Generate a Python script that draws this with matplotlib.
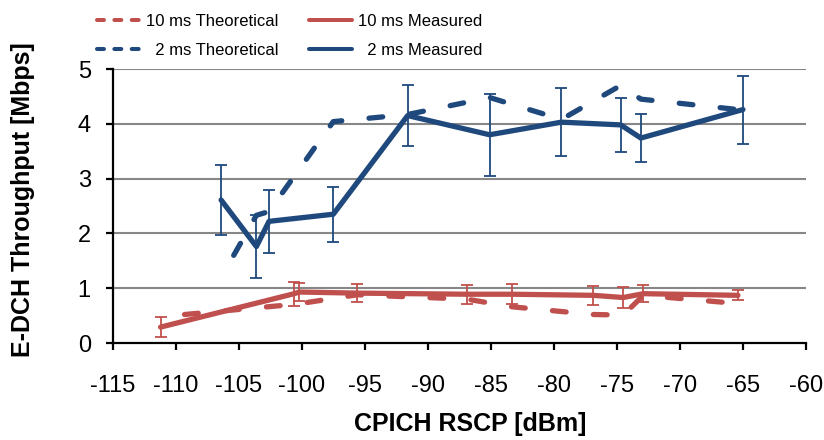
import matplotlib
matplotlib.use("Agg")
import matplotlib.pyplot as plt
from matplotlib.lines import Line2D
from matplotlib import font_manager

# ---- data -------------------------------------------------------------
# 10 ms TTI
rscp_10_theo = [-109.3, -100.4, -95.6, -86.9, -83.3, -76.9, -74.5, -72.9, -65.4]
tput_10_theo = [0.52, 0.71, 0.88, 0.80, 0.66, 0.52, 0.51, 0.87, 0.72]

rscp_10_meas = [-111.2, -100.6, -100.2, -95.6, -86.9, -83.3, -76.9, -74.5, -72.9, -65.4]
tput_10_meas = [0.29, 0.90, 0.93, 0.91, 0.89, 0.89, 0.87, 0.83, 0.90, 0.87]
err_10_meas = [0.18, 0.22, 0.16, 0.17, 0.17, 0.18, 0.17, 0.20, 0.16, 0.09]

# 2 ms TTI
rscp_2_theo = [-105.4, -103.6, -102.6, -97.5, -91.6, -85.1, -79.4, -74.7, -73.1, -65.0]
tput_2_theo = [1.60, 2.33, 2.40, 4.04, 4.17, 4.48, 4.08, 4.70, 4.45, 4.25]

rscp_2_meas = [-106.4, -103.6, -102.6, -97.5, -91.6, -85.1, -79.4, -74.7, -73.1, -65.0]
tput_2_meas = [2.61, 1.76, 2.22, 2.35, 4.15, 3.80, 4.03, 3.98, 3.74, 4.26]
err_2_meas = [0.64, 0.57, 0.58, 0.50, 0.56, 0.75, 0.62, 0.49, 0.44, 0.62]

x_ticks = list(range(-115, -59, 5))
y_ticks = [0, 1, 2, 3, 4, 5]

labels = ["10 ms Theoretical", "  2 ms Theoretical", "10 ms Measured", "  2 ms Measured"]

# ---- style ------------------------------------------------------------
RED = "#C0504D"
BLUE = "#1F497D"
GRID = "#878787"

plt.rcParams["font.family"] = ["Liberation Sans", "DejaVu Sans"]
plt.rcParams["lines.scale_dashes"] = False

names = {f.name for f in font_manager.fontManager.ttflist}
if "Liberation Sans Narrow" in names:
    legend_font = dict(family="Liberation Sans Narrow", size=14)
    col_space = 1.5
else:
    legend_font = dict(family="Liberation Sans", size=12)
    col_space = 1.8

fig = plt.figure(figsize=(8.24, 4.40), dpi=100)
ax = fig.add_axes([112.7 / 824, 97 / 440, 693.3 / 824, 274 / 440])

LW = 3.8
DASH = (9.9, 19.7)

for x, y, c in [(rscp_10_theo, tput_10_theo, RED), (rscp_2_theo, tput_2_theo, BLUE)]:
    ax.plot(x, y, color=c, lw=LW, linestyle=(0, DASH),
            dash_capstyle="round", dash_joinstyle="round", zorder=3)

for x, y, e, c in [(rscp_10_meas, tput_10_meas, err_10_meas, RED),
                   (rscp_2_meas, tput_2_meas, err_2_meas, BLUE)]:
    ax.plot(x, y, color=c, lw=LW, solid_capstyle="round",
            solid_joinstyle="round", zorder=4)
    ax.errorbar(x, y, yerr=e, fmt="none", ecolor=c, elinewidth=1.3,
                capsize=4, capthick=1.3, zorder=5)

ax.set_xlim(-115, -60)
ax.set_ylim(0, 5)
ax.set_xticks(x_ticks)
ax.set_yticks(y_ticks)
ax.set_xticklabels([str(t) for t in x_ticks])

for t in y_ticks[1:]:
    ax.axhline(t, color=GRID, lw=1.5, zorder=1)

for s in ("top", "right"):
    ax.spines[s].set_visible(False)
for s in ("left", "bottom"):
    ax.spines[s].set_linewidth(1.6)
    ax.spines[s].set_zorder(6)

ax.tick_params(axis="both", direction="out", length=4.8, width=1.6,
               labelsize=17, colors="black")
ax.tick_params(axis="x", pad=18)
ax.tick_params(axis="y", pad=11)

ax.set_xlabel("CPICH RSCP [dBm]", fontsize=18, fontweight="bold")
ax.set_ylabel("E-DCH Throughput [Mbps]", fontsize=18, fontweight="bold")
ax.xaxis.set_label_coords(0.515, -0.25)
ax.yaxis.set_label_coords(-0.112, 0.524)

# legend with shorter dashes than the plotted lines
handles = [
    Line2D([], [], color=RED, lw=2.9, linestyle=(0, (5, 7.5)), dash_capstyle="round"),
    Line2D([], [], color=BLUE, lw=2.9, linestyle=(0, (5, 7.5)), dash_capstyle="round"),
    Line2D([], [], color=RED, lw=2.9, solid_capstyle="round"),
    Line2D([], [], color=BLUE, lw=2.9, solid_capstyle="round"),
]
fig.legend(handles, labels, ncol=2, loc="upper left",
           bbox_to_anchor=(97 / 824, 1 - 14 / 440), frameon=False,
           borderpad=0, borderaxespad=0, handlelength=2.6,
           handletextpad=0.35, columnspacing=col_space, labelspacing=0.85,
           prop=legend_font)

fig.savefig("out.png", dpi=100)
